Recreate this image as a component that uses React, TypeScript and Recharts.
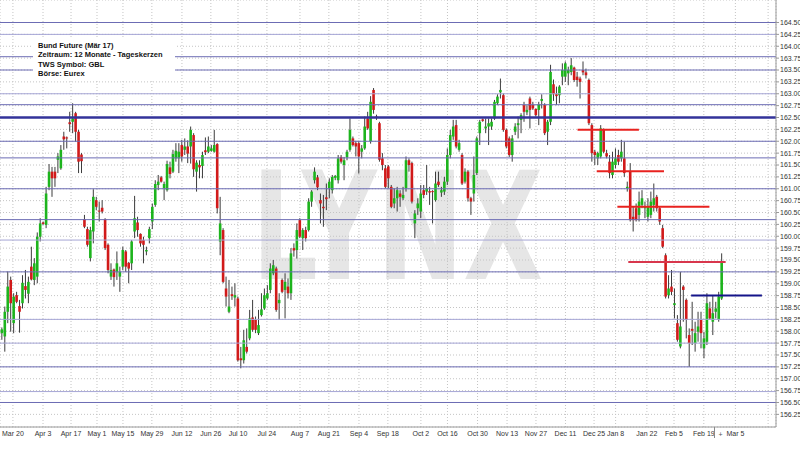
import React from 'react';
import { ComposedChart, Bar, XAxis, YAxis, CartesianGrid, ReferenceLine } from 'recharts';

const OPEN = [
  157.96, 157.89, 158.41, 159.08, 158.17, 158.76, 158.53, 158.59, 158.95, 158.79,
  159.36, 159.08, 159.15, 159.99, 160.29, 160.24, 161.04, 161.36, 161.36, 161.61,
  161.43, 162.10, 162.08, 162.40, 162.41, 162.59, 162.20, 161.72, 160.36, 160.15,
  159.54, 160.10, 160.76, 160.54, 160.60, 160.36, 159.82, 159.15, 159.30, 159.25,
  159.15, 159.36, 159.68, 159.44, 159.43, 160.10, 160.29, 160.05, 159.92, 159.68,
  159.96, 160.31, 160.66, 161.08, 161.24, 161.01, 160.97, 161.45, 161.36, 161.64,
  161.64, 161.92, 161.82, 161.89, 161.89, 162.13, 161.36, 161.50, 161.48, 161.81,
  161.78, 161.80, 161.78, 161.94, 159.89, 160.13, 158.90, 158.41, 158.78, 158.71,
  158.69, 157.43, 157.39, 157.67, 157.85, 158.29, 158.24, 157.96, 158.34, 158.48,
  158.69, 158.87, 159.22, 159.32, 158.59, 159.08, 158.87, 158.94, 158.80, 159.75,
  159.71, 160.34, 159.96, 160.13, 160.13, 160.73, 161.18, 161.24, 160.76, 160.62,
  160.82, 161.01, 160.97, 161.23, 161.18, 161.67, 161.50, 161.66, 161.82, 162.06,
  161.96, 161.96, 161.78, 161.85, 162.48, 162.00, 163.08, 162.52, 162.38, 161.64,
  161.43, 161.47, 161.04, 160.69, 160.80, 160.90, 160.80, 161.01, 161.60, 161.54,
  160.27, 160.59, 160.52, 160.97, 160.94, 160.95, 160.95, 160.76, 161.15, 160.92,
  160.94, 161.15, 161.71, 162.10, 162.34, 161.82, 161.71, 161.15, 161.36, 160.80,
  160.90, 161.33, 162.17, 162.46, 162.27, 162.31, 162.31, 162.48, 162.80, 163.03,
  162.97, 162.24, 162.06, 161.71, 162.20, 162.34, 162.45, 162.76, 162.61, 162.90,
  162.76, 162.68, 162.66, 162.85, 162.76, 162.20, 162.41, 163.20, 162.99, 162.97,
  163.36, 163.36, 163.43, 163.46, 163.55, 163.36, 163.32, 163.50, 163.45, 163.29,
  162.34, 161.78, 161.64, 161.68, 162.24, 161.75, 161.57, 161.29, 161.50, 161.71,
  161.64, 161.64, 161.01, 161.36, 160.41, 160.59, 160.45, 160.66, 160.59, 160.41,
  160.45, 160.66, 160.83, 160.59, 160.17, 159.60, 158.76, 158.94, 158.55, 158.17,
  157.68, 158.94, 158.66, 157.92, 158.05, 157.75, 157.99, 158.24, 157.64, 157.78,
  158.48, 158.20, 158.41, 158.24, 158.69,
];

const HIGH = [
  158.08, 158.52, 159.26, 159.15, 158.80, 158.83, 158.66, 159.18, 159.29, 159.15,
  159.78, 159.54, 160.08, 160.38, 160.31, 161.04, 161.52, 161.46, 161.46, 161.75,
  161.92, 162.20, 162.10, 162.62, 162.80, 162.62, 162.24, 161.75, 160.45, 160.20,
  160.20, 160.99, 160.83, 160.73, 160.76, 160.38, 159.85, 159.43, 159.32, 159.68,
  159.36, 159.78, 159.71, 159.46, 159.92, 160.85, 160.41, 160.06, 159.99, 159.78,
  160.20, 160.69, 161.18, 161.29, 161.27, 161.15, 161.59, 161.57, 161.82, 161.96,
  161.96, 162.03, 162.06, 162.02, 162.31, 162.17, 161.60, 161.60, 161.78, 162.08,
  162.10, 161.92, 162.24, 161.96, 160.83, 160.17, 159.15, 159.08, 158.94, 159.01,
  158.73, 157.67, 158.03, 158.06, 158.45, 158.66, 158.31, 158.45, 158.80, 158.90,
  158.97, 159.43, 159.50, 159.36, 158.80, 159.11, 159.22, 159.11, 159.75, 159.85,
  160.27, 160.38, 160.17, 160.20, 160.80, 160.97, 161.45, 161.29, 160.90, 160.87,
  161.11, 161.22, 161.29, 161.29, 161.71, 161.71, 161.67, 161.82, 162.48, 162.10,
  162.01, 162.01, 161.92, 162.52, 162.62, 162.95, 163.12, 162.56, 162.41, 161.75,
  161.50, 161.50, 161.08, 161.01, 161.04, 160.97, 161.04, 161.68, 161.64, 161.57,
  160.55, 160.80, 161.08, 161.08, 161.50, 161.04, 160.97, 161.36, 161.36, 161.04,
  161.25, 161.85, 162.24, 162.45, 162.45, 162.03, 161.75, 161.43, 161.39, 160.83,
  161.68, 162.10, 162.45, 162.48, 162.48, 162.48, 162.48, 162.87, 162.99, 163.32,
  163.01, 162.27, 162.10, 162.13, 162.38, 162.52, 162.59, 162.83, 162.76, 162.94,
  162.83, 162.69, 162.83, 162.99, 162.80, 162.45, 163.61, 163.30, 163.15, 163.18,
  163.64, 163.68, 163.57, 163.75, 163.57, 163.46, 163.36, 163.68, 163.53, 163.32,
  162.38, 161.82, 161.78, 162.34, 162.27, 161.82, 161.71, 161.78, 161.85, 161.82,
  162.03, 161.99, 161.15, 161.54, 160.62, 160.69, 160.94, 160.97, 160.73, 160.80,
  160.94, 161.11, 160.87, 160.62, 160.24, 159.64, 159.18, 159.29, 158.90, 158.34,
  159.25, 158.97, 158.69, 158.06, 158.62, 158.20, 158.41, 158.41, 157.99, 158.80,
  158.62, 158.76, 158.62, 158.83, 159.64,
];

const LOW = [
  157.82, 157.57, 158.17, 157.99, 157.96, 158.59, 157.97, 158.48, 158.69, 158.59,
  159.07, 158.97, 159.01, 159.89, 160.24, 160.17, 160.97, 160.83, 161.04, 161.33,
  161.40, 161.82, 161.85, 162.20, 162.17, 161.99, 161.33, 161.33, 160.17, 159.78,
  159.47, 159.85, 160.55, 160.31, 160.48, 159.71, 159.22, 159.08, 158.94, 159.08,
  158.83, 159.29, 159.25, 159.01, 159.29, 159.96, 159.99, 159.78, 159.43, 159.60,
  159.85, 160.15, 160.62, 160.97, 161.13, 160.76, 160.94, 161.22, 161.33, 161.57,
  161.33, 161.57, 161.71, 161.54, 161.53, 161.25, 160.94, 161.22, 161.22, 161.71,
  161.75, 161.78, 161.76, 160.48, 159.60, 159.01, 158.52, 158.38, 158.66, 158.52,
  157.36, 157.22, 157.32, 157.53, 157.81, 157.99, 157.96, 157.92, 158.31, 158.45,
  158.66, 158.80, 159.18, 158.41, 158.24, 158.80, 158.27, 158.69, 158.66, 159.57,
  159.53, 159.96, 159.71, 159.89, 160.10, 160.62, 161.11, 160.97, 160.27, 160.20,
  160.55, 160.80, 160.90, 161.18, 161.11, 161.53, 161.18, 161.60, 161.78, 161.89,
  161.68, 161.32, 161.64, 161.82, 162.24, 161.95, 162.58, 162.45, 161.57, 161.39,
  161.01, 161.01, 160.59, 160.59, 160.52, 160.62, 160.76, 160.94, 161.36, 160.69,
  159.96, 160.45, 160.38, 160.80, 160.87, 160.66, 160.27, 160.73, 161.04, 160.83,
  160.87, 161.08, 161.64, 162.03, 161.85, 161.78, 161.08, 161.11, 160.73, 160.45,
  160.73, 161.29, 161.92, 162.41, 162.17, 161.92, 162.24, 162.45, 162.76, 162.90,
  162.20, 161.85, 161.67, 161.57, 162.13, 162.06, 162.17, 162.41, 162.55, 162.27,
  162.66, 162.52, 162.34, 162.69, 162.13, 161.92, 162.34, 162.85, 162.76, 162.80,
  163.18, 163.25, 163.18, 163.39, 163.25, 163.15, 162.90, 163.39, 163.32, 162.34,
  161.57, 161.50, 161.50, 161.64, 161.75, 161.64, 161.22, 161.22, 161.43, 161.50,
  161.57, 161.25, 160.94, 160.31, 160.10, 160.31, 160.31, 160.59, 160.38, 160.31,
  160.38, 160.52, 160.52, 160.24, 159.75, 158.69, 158.69, 158.76, 158.27, 157.78,
  157.64, 158.20, 157.85, 157.25, 157.71, 157.57, 157.78, 157.64, 157.43, 157.71,
  158.24, 157.92, 158.27, 158.20, 158.66,
];

const CLOSE = [
  158.04, 158.41, 158.94, 158.59, 158.73, 158.62, 158.41, 159.02, 158.87, 159.04,
  159.09, 159.43, 159.99, 160.27, 160.26, 160.90, 161.36, 161.22, 161.22, 161.68,
  161.82, 162.04, 162.06, 162.36, 162.48, 162.20, 161.57, 161.58, 160.20, 159.82,
  160.13, 160.83, 160.62, 160.52, 160.52, 159.75, 159.29, 159.29, 159.14, 159.43,
  159.25, 159.71, 159.36, 159.32, 159.89, 160.38, 160.13, 159.85, 159.82, 159.71,
  160.15, 160.62, 161.10, 161.15, 161.15, 161.10, 161.52, 161.31, 161.73, 161.80,
  161.78, 161.68, 161.89, 161.74, 162.24, 161.41, 161.55, 161.45, 161.71, 161.77,
  161.89, 161.85, 161.92, 160.59, 160.27, 159.04, 158.73, 158.52, 158.74, 158.76,
  157.39, 157.39, 157.81, 157.57, 158.27, 158.03, 158.03, 158.13, 158.46, 158.76,
  158.80, 159.32, 159.39, 158.45, 158.66, 158.83, 159.04, 158.80, 159.64, 159.70,
  160.13, 159.99, 160.13, 159.96, 160.73, 160.94, 161.36, 161.03, 160.69, 160.59,
  160.78, 161.15, 161.25, 161.27, 161.64, 161.57, 161.60, 161.78, 162.24, 161.92,
  161.89, 161.68, 161.85, 162.31, 162.27, 162.83, 162.66, 162.49, 161.61, 161.50,
  161.04, 161.22, 160.62, 160.80, 160.97, 160.83, 160.87, 161.60, 161.50, 160.73,
  160.48, 160.69, 160.90, 160.87, 161.01, 160.92, 160.93, 161.11, 161.08, 160.97,
  161.15, 161.71, 162.13, 162.31, 161.89, 161.96, 161.11, 161.36, 160.80, 160.73,
  161.29, 162.06, 162.41, 162.43, 162.31, 162.38, 162.41, 162.83, 162.94, 163.08,
  162.24, 161.89, 161.71, 162.06, 162.31, 162.38, 162.55, 162.62, 162.66, 162.66,
  162.69, 162.55, 162.78, 162.89, 162.17, 162.41, 163.46, 162.99, 162.95, 163.15,
  163.50, 163.64, 163.50, 163.60, 163.29, 163.29, 163.25, 163.45, 163.39, 162.38,
  161.75, 161.71, 161.75, 162.27, 161.78, 161.68, 161.33, 161.57, 161.64, 161.57,
  161.78, 161.33, 161.04, 160.34, 160.34, 160.34, 160.73, 160.80, 160.62, 160.62,
  160.73, 160.80, 160.59, 160.31, 159.78, 158.73, 158.90, 158.83, 158.59, 157.82,
  158.10, 158.87, 158.24, 157.75, 158.01, 157.96, 158.10, 157.96, 157.85, 158.59,
  158.27, 158.38, 158.48, 158.73, 159.46,
];

const X_TICKS = [3.7, 13.9, 23.4, 32.2, 41, 50.8, 61, 70.8, 80, 89.8, 101, 110.8, 121, 130.8, 142, 151, 161.2, 171.2, 181, 191, 200.7, 208, 218.6, 227.8, 237.9, 248.6];
const X_LABELS = ['Mar 20', 'Apr 3', 'Apr 17', 'May 1', 'May 15', 'May 29', 'Jun 12', 'Jun 26', 'Jul 10', 'Jul 24', 'Aug 7', 'Aug 21', 'Sep 4', 'Sep 18', 'Oct 2', 'Oct 16', 'Oct 30', 'Nov 13', 'Nov 27', 'Dec 11', 'Dec 25', 'Jan 8', 'Jan 22', 'Feb 5', 'Feb 19', 'Mar 5'];

const Y_TICKS = [156.25, 156.5, 156.75, 157, 157.25, 157.5, 157.75, 158, 158.25, 158.5, 158.75, 159, 159.25, 159.5, 159.75, 160, 160.25, 160.5, 160.75, 161, 161.25, 161.5, 161.75, 162, 162.25, 162.5, 162.75, 163, 163.25, 163.5, 163.75, 164, 164.25, 164.5];

const BLUE_LEVELS = [164.5, 163.78, 163.5, 162.77, 162.0, 161.65, 161.0, 160.35, 159.25, 157.25, 156.5];
const LIGHT_LEVELS = [164.25, 163.0, 159.92, 158.25, 157.75, 156.73];
const MAIN_LEVEL = 162.5;

const RED_LEVELS = [162.24, 161.37, 160.62];
const RED_FROM = [195.1, 201.6, 208.6];
const RED_TO = [215.9, 224.4, 239.8];
const PINK_LEVEL = 159.46;
const PINK_SPAN = [212.3, 245.3];
const NAVY_LEVEL = 158.75;
const NAVY_SPAN = [233.6, 257.6];

const INFO_LINES = ['Bund Future (Mär 17)', 'Zeitraum: 12 Monate - Tageskerzen', 'TWS Symbol: GBL', 'Börse: Eurex'];

const data = OPEN.map((o, i) => ({
  i,
  open: o,
  high: HIGH[i],
  low: LOW[i],
  close: CLOSE[i],
  range: [LOW[i], HIGH[i]],
}));

function Candle(props: any) {
  const { x, y, width, height, payload } = props;
  if (!payload || x == null || y == null) return null;
  const { open, close, high, low } = payload;
  const top = Math.min(y, y + height);
  const h = Math.abs(height);
  const span = high - low || 1;
  const py = (v: number) => top + ((high - v) / span) * h;
  const cx = x + width / 2;
  const up = close >= open;
  const yo = py(open);
  const yc = py(close);
  const bt = Math.min(yo, yc);
  const bh = Math.max(1, Math.abs(yc - yo));
  return (
    <g>
      <line x1={cx} x2={cx} y1={top} y2={top + h} stroke="#3c3c3c" strokeWidth={1} />
      <rect x={cx - 1.3} y={bt} width={2.6} height={bh} fill={up ? '#1db41d' : '#d11a1a'} />
    </g>
  );
}

const tickFont = { fontSize: 7, fontFamily: 'Liberation Sans, Arial, sans-serif', fill: '#333' };

export default function App() {
  return (
    <div style={{ position: 'fixed', left: 0, top: 0, width: 800, height: 450, background: '#fff', overflow: 'hidden' }}>
      <svg width={800} height={450} style={{ position: 'absolute', left: 0, top: 0 }}>
        <text
          x={252}
          y={279}
          fontSize={150}
          fontWeight={900}
          fontFamily="DejaVu Sans, sans-serif"
          fill="#e6e6e6"
          textLength={291}
          lengthAdjust="spacingAndGlyphs"
        >
          LYNX
        </text>
      </svg>
      <div style={{ position: 'absolute', left: 0, top: 0 }}>
        <ComposedChart width={800} height={450} data={data} margin={{ top: 0, right: 0, bottom: 0, left: 0 }}>
          <CartesianGrid stroke="#c4c4c4" strokeDasharray="1 2" />
          <XAxis
            dataKey="i"
            type="number"
            domain={[-0.678, 262.37]}
            allowDataOverflow
            ticks={X_TICKS}
            interval={0}
            tickFormatter={(v: number) => X_LABELS[X_TICKS.indexOf(v)] ?? ''}
            height={23}
            tickLine={false}
            tickSize={0}
            tickMargin={4}
            axisLine={{ stroke: '#9a9a9a' }}
            tick={tickFont}
          />
          <YAxis
            orientation="right"
            type="number"
            domain={[155.984, 164.974]}
            allowDataOverflow
            ticks={Y_TICKS}
            interval={0}
            tickFormatter={(v: number) => v.toFixed(2)}
            width={24}
            tickSize={3}
            tickMargin={1}
            tickLine={{ stroke: '#9a9a9a' }}
            axisLine={{ stroke: '#9a9a9a' }}
            tick={{ ...tickFont, textAnchor: 'start' }}
          />
          <ReferenceLine x={259.7} stroke="#c4c4c4" strokeDasharray="1 2" />
          {LIGHT_LEVELS.map((v) => (
            <ReferenceLine key={'l' + v} y={v} stroke="#a6a6d6" strokeWidth={1} />
          ))}
          {BLUE_LEVELS.map((v) => (
            <ReferenceLine key={'b' + v} y={v} stroke="#6c6cb4" strokeWidth={1} />
          ))}
          <ReferenceLine y={MAIN_LEVEL} stroke="#33339a" strokeWidth={2.5} />
          <Bar dataKey="range" barSize={3} isAnimationActive={false} shape={(p: any) => <Candle {...p} />} />
          {RED_LEVELS.map((v, k) => (
            <ReferenceLine
              key={'r' + v}
              segment={[{ x: RED_FROM[k], y: v }, { x: RED_TO[k], y: v }]}
              stroke="#e8221f"
              strokeWidth={2}
            />
          ))}
          <ReferenceLine
            segment={[{ x: PINK_SPAN[0], y: PINK_LEVEL }, { x: PINK_SPAN[1], y: PINK_LEVEL }]}
            stroke="#d8364c"
            strokeWidth={2}
          />
          <ReferenceLine
            segment={[{ x: NAVY_SPAN[0], y: NAVY_LEVEL }, { x: NAVY_SPAN[1], y: NAVY_LEVEL }]}
            stroke="#141489"
            strokeWidth={2}
          />
        </ComposedChart>
      </div>
      <svg width={800} height={450} style={{ position: 'absolute', left: 0, top: 0, pointerEvents: 'none' }}>
        <line x1={714.5} x2={714.5} y1={427} y2={438} stroke="#8a8a8a" strokeWidth={1} />
        <text x={720.5} y={436.5} fontSize={7} fontFamily="Liberation Sans, Arial, sans-serif" fill="#555" textAnchor="middle">
          +
        </text>
      </svg>
      <div
        style={{
          position: 'absolute',
          left: 33,
          top: 39,
          width: 142,
          height: 41,
          background: '#fff',
          paddingLeft: 5,
          boxSizing: 'border-box',
          fontFamily: 'Liberation Sans, Arial, sans-serif',
          fontWeight: 'bold',
          fontSize: 7.5,
          lineHeight: '9.3px',
          color: '#111',
          paddingTop: 2,
          whiteSpace: 'nowrap',
        }}
      >
        {INFO_LINES.map((t) => (
          <div key={t}>{t}</div>
        ))}
      </div>
    </div>
  );
}
